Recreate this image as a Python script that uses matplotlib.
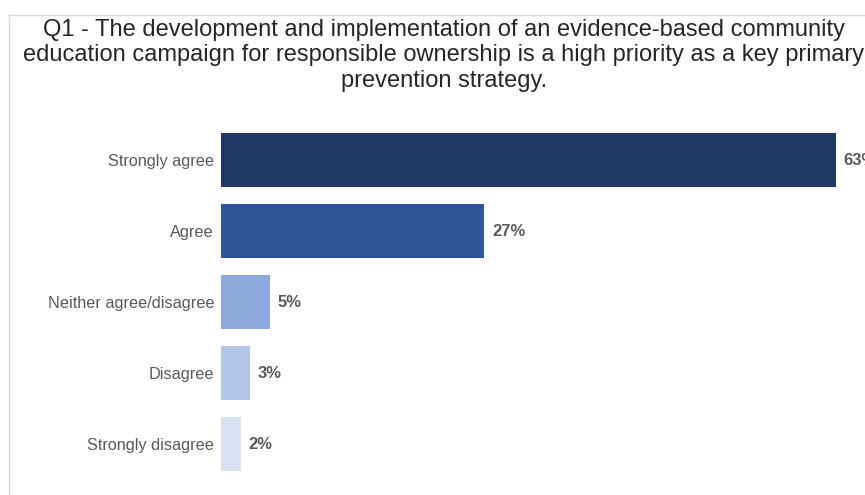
import matplotlib.pyplot as plt
from matplotlib.lines import Line2D

plt.rcParams['font.family'] = ['Liberation Sans', 'DejaVu Sans']

title = ("Q1 - The development and implementation of an evidence-based community\n"
         "education campaign for responsible ownership is a high priority as a key primary\n"
         "prevention strategy.")
categories = ["Strongly agree", "Agree", "Neither agree/disagree", "Disagree", "Strongly disagree"]
percents = [63, 27, 5, 3, 2]
colors = ["#203864", "#2F5597", "#8EA9DB", "#B4C6E7", "#D9E1F2"]

fig = plt.figure(figsize=(8.65, 4.95), dpi=100)

# light frame around the chart area
fig.add_artist(Line2D([9 / 865, 1], [1 - 15 / 495] * 2, color="#d9d9d9", lw=1))
fig.add_artist(Line2D([9 / 865] * 2, [0, 1 - 15 / 495], color="#d9d9d9", lw=1))

fig.text(444 / 865, 1 - 19 / 495, title, ha="center", va="top",
         fontsize=17, color="#262626", linespacing=1.2)

ax = fig.add_axes([221 / 865, 0.0313, 644 / 865, 0.717])
ypos = range(len(categories))
ax.barh(ypos, percents, height=0.76, color=colors)
ax.set_xlim(0, 66)
ax.set_ylim(4.5, -0.5)

for y, v in zip(ypos, percents):
    ax.annotate(f"{v}%", (v, y), xytext=(5.5, 0), textcoords="offset points",
                va="center", ha="left", fontsize=12, fontweight="bold",
                color="#595959", annotation_clip=False)

ax.set_yticks(list(ypos))
ax.set_yticklabels(categories, fontsize=11.7, color="#595959")
ax.tick_params(axis="y", length=0, pad=5)
ax.set_xticks([])
for s in ax.spines.values():
    s.set_visible(False)

fig.savefig("out.png", dpi=100)
